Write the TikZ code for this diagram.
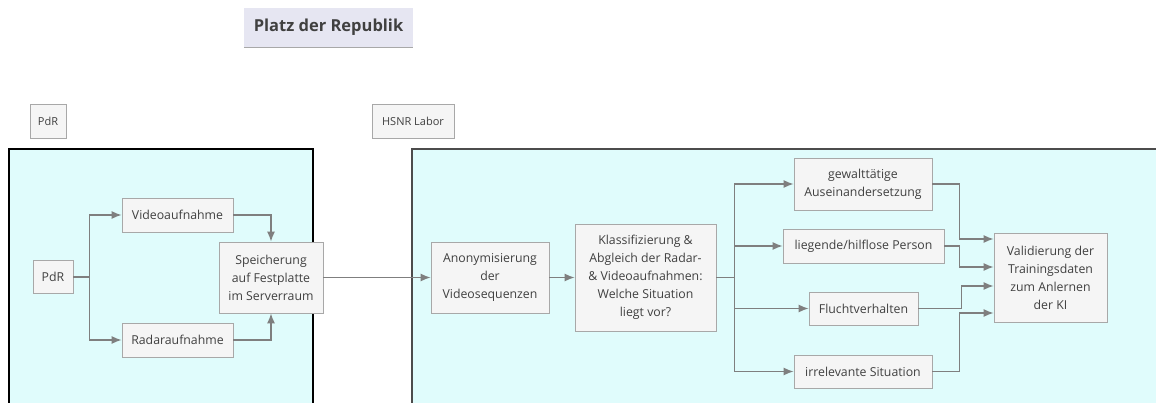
\documentclass[tikz,border=0pt]{standalone}
\usepackage{fontspec}
\setmainfont{Open Sans}
\usetikzlibrary{arrows.meta, calc}

\definecolor{zonefill}{HTML}{E0FCFC}
\definecolor{boxfill}{HTML}{F5F5F5}
\definecolor{boxline}{HTML}{A8A8A8}
\definecolor{flowline}{HTML}{7F7F7F}
\definecolor{textgray}{HTML}{404040}
\definecolor{titlefill}{HTML}{E6E6F2}

\begin{document}
\begin{tikzpicture}[
    x=1pt, y=-1pt,
    font=\fontsize{12.3}{18}\selectfont,
    block/.style={rectangle, draw=boxline, fill=boxfill, text=textgray, align=center, inner sep=2pt, line width=0.8pt},
    tag/.style={rectangle, draw=boxline, fill=boxfill, text=textgray, inner sep=2pt, line width=0.8pt, font=\fontsize{11}{14}\selectfont},
    zone/.style={draw, fill=zonefill, line width=1.5pt},
    line/.style={draw=flowline, -{Latex[length=10pt, width=8pt]}, line width=1.3pt}
]
    \useasboundingbox (0,0) rectangle (1156,403);
    \clip (0,0) rectangle (1156,403);

    % Title
    \node [fill=titlefill, text=textgray, minimum width=169pt, minimum height=39pt, inner sep=0pt, font=\fontsize{16.5}{18}\selectfont\bfseries] (title) at (328.5,27.5) {Platz der Republik};
    \draw [boxline, line width=1pt] (title.south west) -- (title.south east);

    % Zone labels
    \node [tag, minimum width=36pt, minimum height=34pt] (tagpdr) at (48,121) {PdR};
    \node [tag, minimum width=82pt, minimum height=34pt] (taglab) at (413,121) {HSNR Labor};

    % Zones
    \draw [zone, draw=black] (9,149) rectangle (313,420);
    \draw [zone, draw=black!70] (412,149) rectangle (1170,420);

    % PdR side
    \node [block, minimum width=40pt, minimum height=33pt] (pdr) at (53,277) {PdR};
    \node [block, minimum width=111pt, minimum height=34pt] (video) at (177.5,215) {Videoaufnahme};
    \node [block, minimum width=111pt, minimum height=34pt] (radar) at (177.5,340) {Radaraufnahme};
    \node [block, minimum width=104pt, minimum height=71pt] (store) at (271,277.5) {Speicherung\\auf Festplatte\\im Serverraum};

    % Labor side
    \node [block, minimum width=118pt, minimum height=71pt] (anon) at (490,277.5) {Anonymisierung\\der\\Videosequenzen};
    \node [block, minimum width=141pt, minimum height=107pt] (klass) at (645.5,277.5) {Klassifizierung \&\\Abgleich der Radar-\\\& Videoaufnahmen:\\Welche Situation\\liegt vor?};
    \node [block, minimum width=138pt, minimum height=52pt] (gewalt) at (863,184) {gewalttätige\\Auseinandersetzung};
    \node [block, minimum width=161pt, minimum height=34pt] (liegend) at (863.5,246) {liegende/hilflose Person};
    \node [block, minimum width=109pt, minimum height=33pt] (flucht) at (863.5,308.5) {Fluchtverhalten};
    \node [block, minimum width=138pt, minimum height=33pt] (irrel) at (863,371.5) {irrelevante Situation};
    \node [block, minimum width=113pt, minimum height=89pt] (valid) at (1050.5,277.5) {Validierung der\\Trainingsdaten\\zum Anlernen\\der KI};

    % Connections
    \path [line] (pdr.east) -- ++(16,0) |- (video);
    \path [line] (pdr.east) -- ++(16,0) |- (radar);
    \path [line] (video) -| (store);
    \path [line] (radar) -| (store);
    \path [line] (store) -- (anon);
    \path [line] (anon) -- (klass);

    \path [line] (klass.east) -- ++(18,0) |- (gewalt);
    \path [line] (klass.east) -- ++(18,0) |- (liegend);
    \path [line] (klass.east) -- ++(18,0) |- (flucht);
    \path [line] (klass.east) -- ++(18,0) |- (irrel);

    \path [line] (gewalt.east) -- ++(27,0) |- ($(valid.west)+(0,-38.5)$);
    \path [line] (liegend.east) -- ++(15,0) |- ($(valid.west)+(0,-10.5)$);
    \path [line] (flucht.east) -- ++(43,0) |- ($(valid.west)+(0,8.5)$);
    \path [line] (irrel.east) -- ++(27,0) |- ($(valid.west)+(0,35.5)$);

\end{tikzpicture}
\end{document}
